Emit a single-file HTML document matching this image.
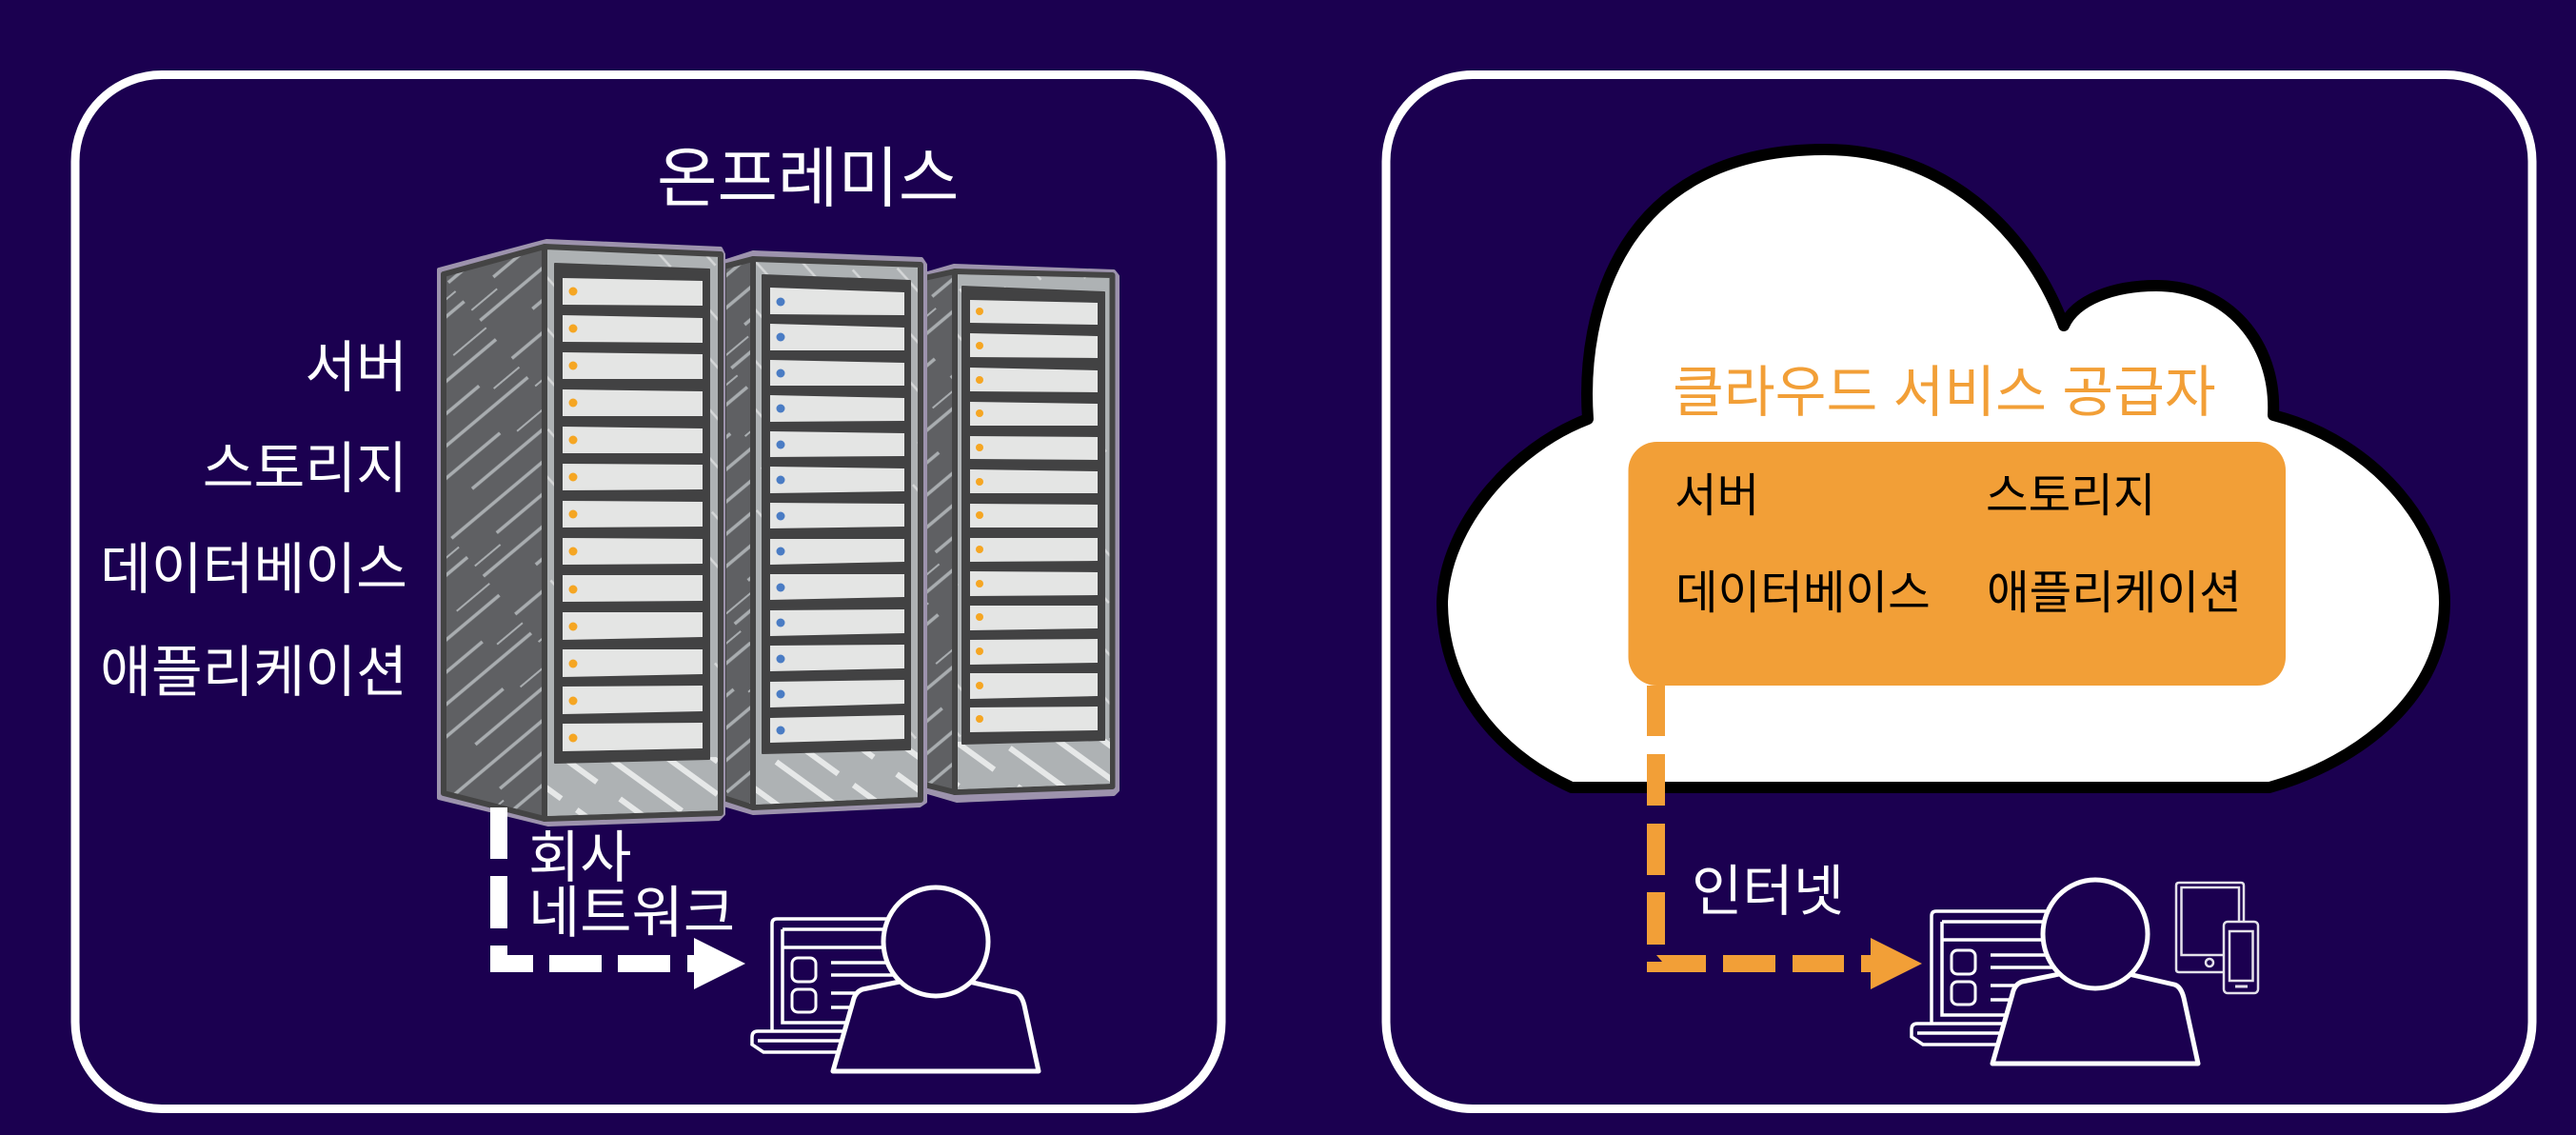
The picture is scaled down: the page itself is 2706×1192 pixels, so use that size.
<!DOCTYPE html>
<html lang="ko"><head><meta charset="utf-8"><title>온프레미스와 클라우드</title>
<style>html,body{margin:0;padding:0;background:#1b0050;width:2706px;height:1192px;overflow:hidden}svg{display:block}
text{font-family:"Liberation Sans","Noto Sans CJK KR",sans-serif}</style></head><body>
<svg xmlns="http://www.w3.org/2000/svg" width="2706" height="1192" viewBox="0 0 2706 1192">
<defs>
<pattern id="hs" width="170" height="104" patternUnits="userSpaceOnUse" patternTransform="rotate(-40)">
<rect width="170" height="104" fill="#5f6063"/>
<path d="M0 10H125M40 36H170M0 62H110M50 88H170" stroke="#a9adb0" stroke-width="3.500" fill="none"/>
<path d="M135 22H170M0 48H35M125 72H170" stroke="#a9adb0" stroke-width="2" fill="none"/>
</pattern>
<pattern id="ht" width="90" height="70" patternUnits="userSpaceOnUse" patternTransform="rotate(48)">
<rect width="90" height="70" fill="#aeb2b4"/>
<path d="M0 14H50M30 48H80" stroke="#d4d6d7" stroke-width="2.500" fill="none"/>
</pattern>
<pattern id="hf" width="110" height="64" patternUnits="userSpaceOnUse" patternTransform="rotate(36)">
<rect width="110" height="64" fill="#aeb2b4"/>
<path d="M0 12H90M30 40H110" stroke="#e6e8e8" stroke-width="6" fill="none"/>
</pattern>
<g id="user" fill="none" stroke="#fff">
<path d="M811 1083V970q0-5 5-5H960M822 976H960M822 995H960M822 976V1074H920" stroke-width="3.500"/>
<rect x="832" y="1006" width="25" height="25" rx="6" stroke-width="3"/><rect x="832" y="1039" width="25" height="24" rx="6" stroke-width="3"/>
<path d="M873 1011H945M873 1024H945M873 1043H925M873 1058H920" stroke-width="3.500"/>
<path d="M900 1083H796q-6 0-6 6V1097L802 1105H900M796 1093H900" stroke-width="3.500"/>
<path d="M960 1028L906 1039Q898 1042 896 1052L875 1125H1091L1076 1056Q1073 1044 1066 1042L1005 1028Z" fill="#1b0050" stroke-width="5" stroke-linejoin="round"/>
<ellipse cx="983" cy="989" rx="55" ry="57" fill="#1b0050" stroke-width="5"/>
</g>
</defs>

<rect x="79" y="78.500" width="1204" height="1086" rx="91" fill="none" stroke="#fff" stroke-width="9"/>
<rect x="1456" y="78.500" width="1204" height="1086" rx="91" fill="none" stroke="#fff" stroke-width="9"/>

<g stroke-linejoin="round">
<!-- rack 3 -->
<polygon points="971,288 1002,279 1170,285 1174,290 1174,830 1170,834 1005,841 971,831" fill="#9d93ad" stroke="#9d93ad" stroke-width="4"/>
<polygon points="971,292 1003,285 1003,832 971,824" fill="url(#hs)" stroke="#444" stroke-width="6"/>
<polygon points="1003,285 1168.500,289 1168.500,826 1003,832" fill="url(#ht)" stroke="#444" stroke-width="6"/>
<polygon points="1006,779 1166,775 1166,823 1006,829" fill="url(#hf)"/>
<polygon points="1011,301 1160,307 1160,777 1011,781" fill="#424243" stroke="#424243" stroke-width="2"/>
<g fill="#e4e5e4"><polygon points="1019,315 1153,318 1153,341 1019,339"/><polygon points="1019,350 1153,353 1153,376 1019,375"/><polygon points="1019,386 1153,389 1153,412 1019,411"/><polygon points="1019,422 1153,424 1153,447 1019,447"/><polygon points="1019,458 1153,459 1153,483 1019,482"/><polygon points="1019,493 1153,495 1153,518 1019,518"/><polygon points="1019,529 1153,530 1153,554 1019,554"/><polygon points="1019,565 1153,565 1153,589 1019,590"/><polygon points="1019,600 1153,601 1153,625 1019,626"/><polygon points="1019,636 1153,636 1153,660 1019,662"/><polygon points="1019,672 1153,671 1153,696 1019,698"/><polygon points="1019,707 1153,707 1153,731 1019,734"/><polygon points="1019,743 1153,742 1153,767 1019,769"/></g>
<g fill="#f5a623"><circle cx="1029" cy="327" r="4"/><circle cx="1029" cy="363" r="4"/><circle cx="1029" cy="399" r="4"/><circle cx="1029" cy="434" r="4"/><circle cx="1029" cy="470" r="4"/><circle cx="1029" cy="506" r="4"/><circle cx="1029" cy="541" r="4"/><circle cx="1029" cy="577" r="4"/><circle cx="1029" cy="613" r="4"/><circle cx="1029" cy="648" r="4"/><circle cx="1029" cy="684" r="4"/><circle cx="1029" cy="720" r="4"/><circle cx="1029" cy="755" r="4"/></g>

<!-- rack 2 -->
<polygon points="760,275 791,265 968,272 972,278 972,842 966,846 791,854 760,845" fill="#9d93ad" stroke="#9d93ad" stroke-width="4"/>
<polygon points="760,280 791,272 791,848 760,838" fill="url(#hs)" stroke="#444" stroke-width="6"/>
<polygon points="791,272 967,278 967,840 791,848" fill="url(#ht)" stroke="#444" stroke-width="6"/>
<polygon points="794,789 964,785 964,837 794,845" fill="url(#hf)"/>
<polygon points="801,289 956,295 956,787 801,791" fill="#424243" stroke="#424243" stroke-width="2"/>
<g fill="#e4e5e4"><polygon points="809,302 950,307 950,331 809,330"/><polygon points="809,340 950,344 950,368 809,368"/><polygon points="809,378 950,381 950,405 809,405"/><polygon points="809,415 950,418 950,442 809,443"/><polygon points="809,453 950,455 950,479 809,480"/><polygon points="809,490 950,492 950,516 809,518"/><polygon points="809,528 950,529 950,553 809,555"/><polygon points="809,566 950,566 950,590 809,593"/><polygon points="809,603 950,603 950,627 809,630"/><polygon points="809,641 950,640 950,665 809,668"/><polygon points="809,678 950,677 950,702 809,705"/><polygon points="809,716 950,714 950,739 809,743"/><polygon points="809,754 950,751 950,776 809,780"/></g>
<g fill="#4a7cc4"><circle cx="820" cy="317" r="4.500"/><circle cx="820" cy="354" r="4.500"/><circle cx="820" cy="392" r="4.500"/><circle cx="820" cy="429" r="4.500"/><circle cx="820" cy="467" r="4.500"/><circle cx="820" cy="504" r="4.500"/><circle cx="820" cy="542" r="4.500"/><circle cx="820" cy="579" r="4.500"/><circle cx="820" cy="617" r="4.500"/><circle cx="820" cy="654" r="4.500"/><circle cx="820" cy="692" r="4.500"/><circle cx="820" cy="729" r="4.500"/><circle cx="820" cy="767" r="4.500"/></g>

<!-- rack 1 -->
<polygon points="461,283 574,253 757,261 760,267 760,855 755,860 576,866 461,838" fill="#9d93ad" stroke="#9d93ad" stroke-width="4"/>
<polygon points="466,288 572,259 572,860 466,833" fill="url(#hs)" stroke="#444" stroke-width="6"/>
<polygon points="572,259 757,267 757,854 572,860" fill="url(#ht)" stroke="#444" stroke-width="6"/>
<polygon points="575,799 754,795 754,851 575,857" fill="url(#hf)"/>
<polygon points="583,277 745,283 745,797 583,801" fill="#424243" stroke="#424243" stroke-width="2"/>
<g fill="#e4e5e4"><polygon points="591,292 738,295 738,321 591,320"/><polygon points="591,331 738,334 738,360 591,359"/><polygon points="591,370 738,372 738,398 591,398"/><polygon points="591,409 738,411 738,437 591,437"/><polygon points="591,448 738,450 738,476 591,476"/><polygon points="591,487 738,488 738,514 591,515"/><polygon points="591,526 738,527 738,553 591,554"/><polygon points="591,565 738,566 738,592 591,593"/><polygon points="591,604 738,604 738,631 591,632"/><polygon points="591,643 738,643 738,669 591,672"/><polygon points="591,682 738,682 738,708 591,711"/><polygon points="591,721 738,720 738,747 591,750"/><polygon points="591,760 738,759 738,786 591,789"/></g>
<g fill="#f5a623"><circle cx="602" cy="306" r="4.500"/><circle cx="602" cy="345" r="4.500"/><circle cx="602" cy="384" r="4.500"/><circle cx="602" cy="423" r="4.500"/><circle cx="602" cy="462" r="4.500"/><circle cx="602" cy="501" r="4.500"/><circle cx="602" cy="540" r="4.500"/><circle cx="602" cy="579" r="4.500"/><circle cx="602" cy="619" r="4.500"/><circle cx="602" cy="658" r="4.500"/><circle cx="602" cy="697" r="4.500"/><circle cx="602" cy="736" r="4.500"/><circle cx="602" cy="775" r="4.500"/></g>
</g>

<!-- left labels -->
<g fill="#fff">
<text x="690" y="211" font-size="69">온프레미스</text>
<g font-size="58.500" text-anchor="end">
<text x="428" y="406">서버</text>
<text x="428" y="512">스토리지</text>
<text x="428" y="618">데이터베이스</text>
<text x="428" y="726">애플리케이션</text>
</g>
<g font-size="59">
<text x="555" y="921">회사</text>
<text x="555" y="979">네트워크</text>
</g>
</g>

<!-- left arrow -->
<g fill="#fff">
<rect x="515" y="848" width="18" height="54"/><rect x="515" y="920" width="18" height="55"/>
<path d="M515 993H533V1003H560V1021H515Z"/>
<rect x="577" y="1003" width="55" height="18"/><rect x="649" y="1003" width="55" height="18"/><rect x="722" y="1003" width="8" height="18"/>
<polygon points="729,985 783,1012 729,1039"/>
</g>
<use href="#user"/>

<!-- cloud -->
<path d="M1668 440C1660 330 1700 157 1917 157C2040 157 2130 240 2168 342C2180 315 2220 300 2265 300C2340 300 2392 360 2388 436C2500 465 2568 560 2568 632C2568 730 2480 800 2384 827H1651C1570 790 1515 720 1515 632C1518 550 1590 470 1668 440Z" fill="#fff" stroke="#000" stroke-width="12" stroke-linejoin="round"/>
<text x="1757" y="432" font-size="58.500" fill="#f29f37">클라우드 서비스 공급자</text>
<rect x="1710.500" y="464" width="690.500" height="256" rx="30" fill="#f29f37"/>
<g font-size="48.500" fill="#000">
<text x="1759" y="537">서버</text>
<text x="2086" y="537">스토리지</text>
<text x="1760" y="639">데이터베이스</text>
<text x="2087" y="639">애플리케이션</text>
</g>

<!-- right arrow -->
<g fill="#f29f37">
<rect x="1730" y="720" width="19" height="53"/><rect x="1730" y="792" width="19" height="54"/><rect x="1730" y="865" width="19" height="54"/><rect x="1730" y="937" width="19" height="55"/>
<path d="M1740 1003H1792V1021H1730V1010H1746Z"/>
<rect x="1810" y="1003" width="55" height="18"/><rect x="1883" y="1003" width="54" height="18"/><rect x="1955" y="1003" width="11" height="18"/>
<polygon points="1965,985 2019,1012 1965,1039"/>
</g>
<text x="1777" y="956" font-size="58" fill="#fff">인터넷</text>
<use href="#user" transform="translate(1218,-8)"/>

<!-- devices -->
<g fill="none" stroke="#e4e1ea" stroke-width="2.500">
<path d="M2336 1021H2289q-3 0-3-3V930q0-3 3-3H2354q3 0 3 3V968"/>
<path d="M2336 1003H2291.500V932H2352V968"/>
<circle cx="2321" cy="1011" r="4"/>
<rect x="2336" y="968" width="36" height="75" rx="4"/>
<rect x="2342" y="978" width="24.500" height="52"/>
<path d="M2348 1036H2361" stroke-width="3"/>
</g>
</svg>
</body></html>
